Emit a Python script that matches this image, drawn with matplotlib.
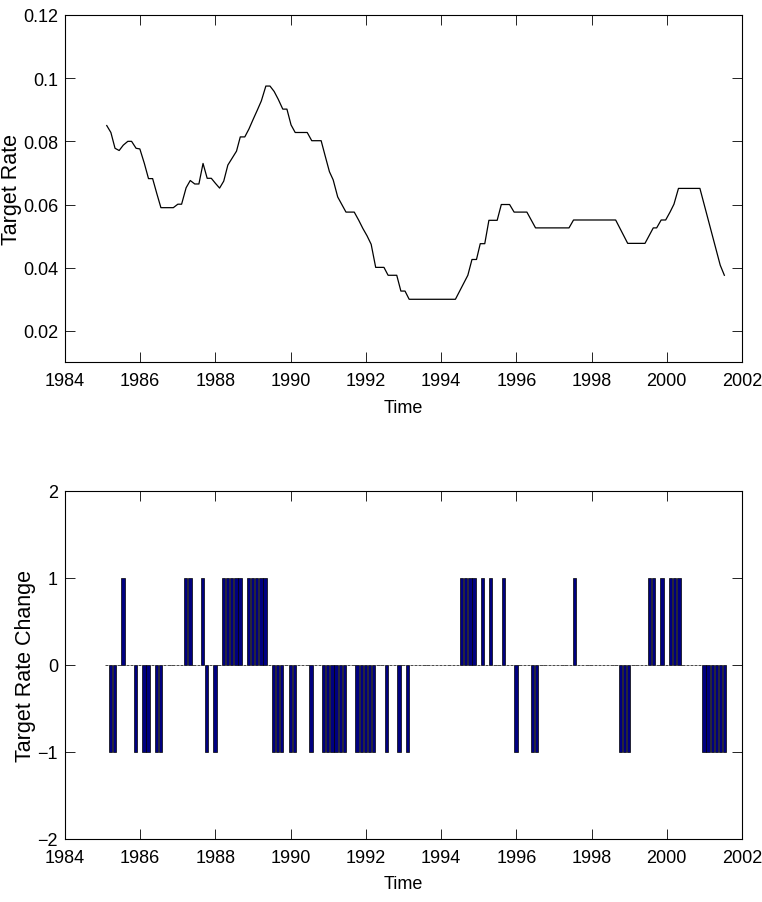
import numpy as np
import matplotlib.pyplot as plt

# Fed funds target rate (corner points of the series)
rate_years = [1985.11, 1985.22, 1985.33, 1985.44, 1985.55, 1985.67, 1985.77, 1985.89,
              1985.99, 1986.11, 1986.22, 1986.33, 1986.44, 1986.55, 1986.88, 1987.00,
              1987.10, 1987.22, 1987.33, 1987.45, 1987.56, 1987.67, 1987.78, 1987.89,
              1988.00, 1988.11, 1988.22, 1988.33, 1988.44, 1988.56, 1988.66, 1988.78,
              1988.89, 1989.00, 1989.11, 1989.22, 1989.34, 1989.45, 1989.56, 1989.67,
              1989.79, 1989.90, 1990.01, 1990.12, 1990.44, 1990.56, 1990.81, 1990.91,
              1991.03, 1991.13, 1991.25, 1991.36, 1991.47, 1991.69, 1991.81, 1991.92,
              1992.03, 1992.14, 1992.26, 1992.48, 1992.59, 1992.82, 1992.93, 1993.04,
              1993.15, 1994.38, 1994.71, 1994.82, 1994.94, 1995.04, 1995.16, 1995.27,
              1995.49, 1995.60, 1995.82, 1995.94, 1996.28, 1996.51, 1997.40, 1997.52,
              1998.64, 1998.96, 1999.42, 1999.64, 1999.73, 1999.85, 1999.97, 2000.09,
              2000.19, 2000.31, 2000.88, 2001.42, 2001.53]
rates = [0.0850, 0.0828, 0.0778, 0.0771, 0.0788, 0.0800, 0.0800, 0.0778,
         0.0776, 0.0730, 0.0682, 0.0682, 0.0635, 0.0590, 0.0590, 0.0601,
         0.0601, 0.0653, 0.0676, 0.0665, 0.0665, 0.0730, 0.0683, 0.0683,
         0.0667, 0.0652, 0.0674, 0.0725, 0.0746, 0.0769, 0.0814, 0.0814,
         0.0839, 0.0869, 0.0898, 0.0928, 0.0975, 0.0975, 0.0958, 0.0933,
         0.0902, 0.0902, 0.0852, 0.0828, 0.0828, 0.0802, 0.0802, 0.0757,
         0.0704, 0.0678, 0.0624, 0.0600, 0.0576, 0.0576, 0.0550, 0.0524,
         0.0501, 0.0474, 0.0401, 0.0401, 0.0376, 0.0376, 0.0326, 0.0326,
         0.0300, 0.0300, 0.0376, 0.0426, 0.0426, 0.0476, 0.0476, 0.0550,
         0.0550, 0.0600, 0.0600, 0.0576, 0.0576, 0.0526, 0.0526, 0.0551,
         0.0551, 0.0477, 0.0477, 0.0526, 0.0526, 0.0551, 0.0551, 0.0577,
         0.0601, 0.0651, 0.0651, 0.0408, 0.0376]

# direction of the target move at each meeting, one row per ~year (9 meetings)
first_meeting = 1985.098
per_year = 9
changes = [0, -1, -1, 0, 1, 0, 0, -1, 0,
           -1, -1, 0, -1, -1, 0, 0, 0, 0,
           0, 1, 1, 0, 0, 1, -1, 0, -1,
           0, 1, 1, 1, 1, 1, 0, 1, 1,
           1, 1, 1, 0, -1, -1, -1, 0, -1,
           -1, 0, 0, 0, -1, 0, 0, -1, -1,
           -1, -1, -1, -1, 0, 0, -1, -1, -1,
           -1, -1, 0, 0, -1, 0, 0, -1, 0,
           -1, 0, 0, 0, 0, 0, 0, 0, 0,
           0, 0, 0, 0, 1, 1, 1, 1, 0,
           1, 0, 1, 0, 0, 1, 0, 0, -1,
           0, 0, 0, -1, -1, 0, 0, 0, 0,
           0, 0, 0, 0, 1, 0, 0, 0, 0,
           0, 0, 0, 0, 0, 0, -1, -1, -1,
           0, 0, 0, 0, 1, 1, 0, 1, 0,
           1, 1, 1, 0, 0, 0, 0, 0, -1,
           -1, -1, -1, -1, -1]

year_ticks = list(range(1984, 2003, 2))
rate_ticks = [0.02, 0.04, 0.06, 0.08, 0.10, 0.12]
rate_labels = ['0.02', '0.04', '0.06', '0.08', '0.1', '0.12']
change_ticks = [-2, -1, 0, 1, 2]
change_labels = ['\u22122', '\u22121', '0', '1', '2']

tick_font = ['Liberation Sans Narrow', 'Liberation Sans', 'DejaVu Sans']
label_font = ['Liberation Sans', 'DejaVu Sans']

fig = plt.figure(figsize=(7.62, 9.03), dpi=100)
ax1 = fig.add_axes([0.0853, 0.5975, 0.8885, 0.3848])
ax2 = fig.add_axes([0.0853, 0.0698, 0.8885, 0.3854])

ax1.plot(rate_years, rates, color='black', linewidth=0.9)
ax1.set_xlim(1984, 2002)
ax1.set_ylim(0.01, 0.12)
ax1.set_yticks(rate_ticks)
ax1.set_yticklabels(rate_labels)
ax1.set_ylabel('Target Rate', family=label_font, fontsize=15.5)
ax1.yaxis.set_label_coords(-0.064, 0.5)

dates = first_meeting + np.arange(len(changes)) / per_year
ax2.bar(dates, changes, width=0.8 / per_year, color='#000080',
        edgecolor='black', linewidth=0.5)
ax2.set_xlim(1984, 2002)
ax2.set_ylim(-2, 2)
ax2.set_yticks(change_ticks)
ax2.set_yticklabels(change_labels)
ax2.set_ylabel('Target Rate Change', family=label_font, fontsize=15.5)
ax2.yaxis.set_label_coords(-0.043, 0.5)

for ax in (ax1, ax2):
    ax.set_xticks(year_ticks)
    ax.set_xticklabels([str(y) for y in year_ticks])
    ax.set_xlabel('Time', family=tick_font, fontsize=13, labelpad=7)
    ax.tick_params(direction='in', top=True, right=True, length=7,
                   width=0.6, labelsize=13)
    ax.tick_params(axis='x', pad=7)
    ax.tick_params(axis='y', pad=5)
    for lab in ax.get_xticklabels() + ax.get_yticklabels():
        lab.set_family(tick_font)
    for sp in ax.spines.values():
        sp.set_linewidth(0.8)

fig.savefig('out.png', dpi=100)
